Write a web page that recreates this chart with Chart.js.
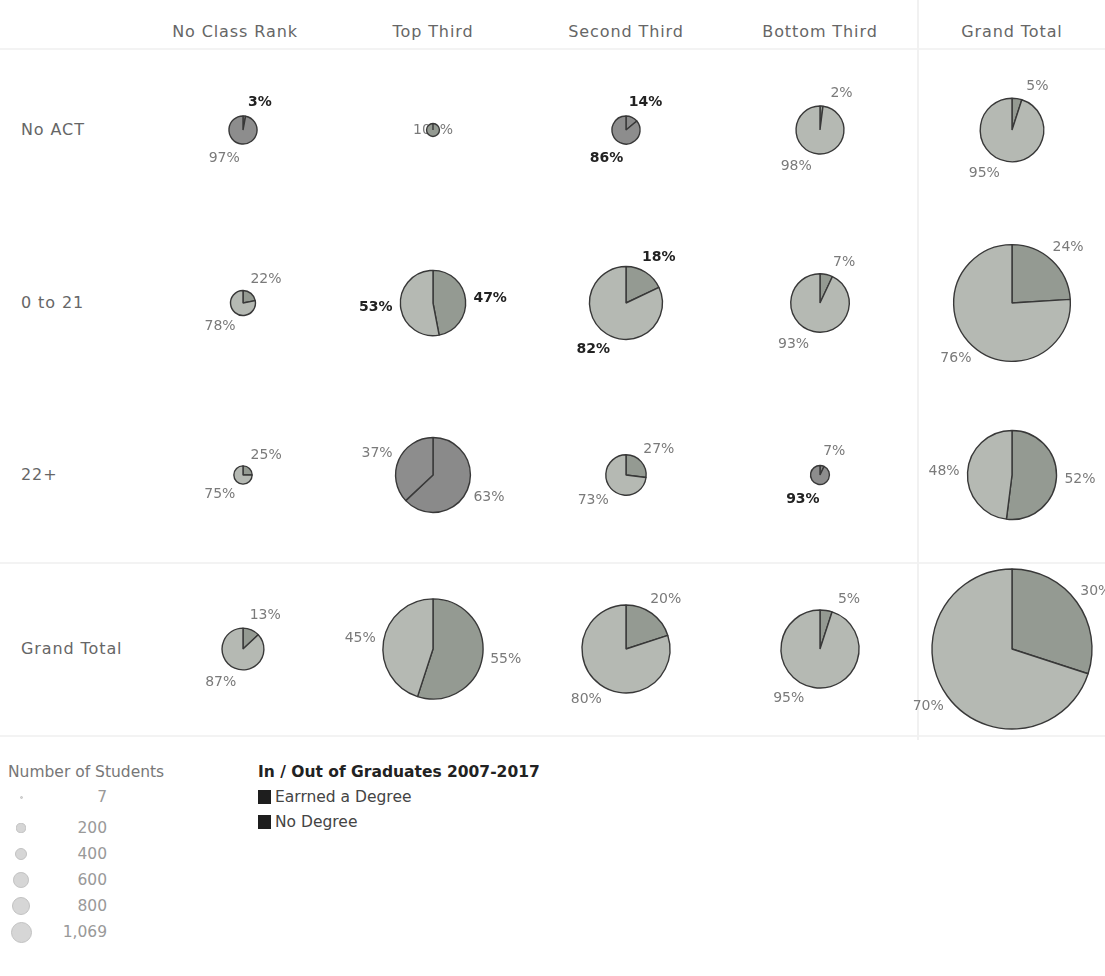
<!DOCTYPE html>
<html>
<head>
<meta charset="utf-8">
<script src="https://cdn.jsdelivr.net/npm/chart.js@4"></script>
<style>
  body { margin: 0; background: #fff; font-family: "DejaVu Sans", sans-serif; }
  #wrap { position: relative; width: 1105px; height: 976px; overflow: hidden; }
  #wrap canvas { position: absolute; }
  .txt { position: absolute; white-space: nowrap; color: #666; font-size: 15.5px; line-height: 18px; }
  .hdr { font-size: 16px; letter-spacing: 0.9px; }
  .hline { position: absolute; height: 2px; background: #f3f3f3; }
  .vline { position: absolute; width: 2px; background: #f1f1f1; }
  .dot { position: absolute; border-radius: 50%; background: #d6d6d6; border: 1px solid #c2c2c2; box-sizing: border-box; }
  .sq { position: absolute; width: 13px; height: 14px; background: #1e1e1e; }
</style>
</head>
<body>
<div id="wrap"></div>
<script>
// columns / rows of the crosstab
const classRanks = ['No Class Rank', 'Top Third', 'Second Third', 'Bottom Third', 'Grand Total'];
const actGroups = ['No ACT', '0 to 21', '22+', 'Grand Total'];
const outcomes = ['Earrned a Degree', 'No Degree'];

// number of students (size of each pie)
const studentsNoAct = [33, 7, 33, 96, 169];
const students0to21 = [26, 178, 222, 143, 569];
const students22plus = [14, 234, 68, 15, 331];
const studentsTotal = [73, 419, 323, 254, 1069];

// % earned a degree / % no degree
const earnedNoAct = [3, 100, 14, 2, 5];
const noDegreeNoAct = [97, 0, 86, 98, 95];
const earned0to21 = [22, 47, 18, 7, 24];
const noDegree0to21 = [78, 53, 82, 93, 76];
const earned22plus = [25, 63, 27, 7, 52];
const noDegree22plus = [75, 37, 73, 93, 48];
const earnedTotal = [13, 55, 20, 5, 30];
const noDegreeTotal = [87, 45, 80, 95, 70];

// size legend
const sizeLegendValues = [7, 200, 400, 600, 800, 1069];

const students = [studentsNoAct, students0to21, students22plus, studentsTotal];
const earned = [earnedNoAct, earned0to21, earned22plus, earnedTotal];
const noDegree = [noDegreeNoAct, noDegree0to21, noDegree22plus, noDegreeTotal];

// layout
const colX = [243, 433, 626, 820, 1012];
const rowY = [130, 303, 475, 649];
const maxR = 80;
const maxN = 1069;
const cellW = 250, cellH = 210;

// styling of individual cells (scan shows some pies darker / bold labels)
const darkCells = ['0-0', '0-2', '2-1', '2-3'];
const boldLabels = ['0-0-0', '0-2-0', '0-2-1', '1-1-0', '1-1-1', '1-2-0', '1-2-1', '2-3-1'];

const wrap = document.getElementById('wrap');

function addText(text, x, y, align, css, cls) {
  const d = document.createElement('div');
  d.className = 'txt' + (cls ? ' ' + cls : '');
  d.textContent = text;
  d.style.top = (y - 9) + 'px';
  if (align === 'center') { d.style.left = (x - 100) + 'px'; d.style.width = '200px'; d.style.textAlign = 'center'; }
  else if (align === 'right') { d.style.left = (x - 200) + 'px'; d.style.width = '200px'; d.style.textAlign = 'right'; }
  else d.style.left = x + 'px';
  if (css) Object.assign(d.style, css);
  wrap.appendChild(d);
}

// faint table lines
function line(cls, x, y, len) {
  const d = document.createElement('div');
  d.className = cls;
  d.style.left = x + 'px'; d.style.top = y + 'px';
  if (cls === 'hline') d.style.width = len + 'px'; else d.style.height = len + 'px';
  wrap.appendChild(d);
}
line('hline', 0, 48, 1105);
line('hline', 0, 562, 1105);
line('hline', 0, 735, 1105);
line('vline', 917, 0, 740);

classRanks.forEach((c, i) => addText(c, colX[i] - (i === 0 ? 8 : 0), 32, 'center', null, 'hdr'));
actGroups.forEach((r, j) => addText(r, 21, rowY[j], 'left', null, 'hdr'));

// percentage labels drawn around each slice
const pctLabels = {
  id: 'pctLabels',
  beforeDatasetsDraw(chart) {
    const ctx = chart.ctx;
    const meta = chart.getDatasetMeta(0);
    const vals = chart.data.datasets[0].data;
    const key = chart.options.cellKey;
    ctx.save();
    meta.data.forEach((arc, k) => {
      const v = vals[k];
      if (!v) return;
      const bold = boldLabels.includes(key + '-' + k);
      ctx.font = (bold ? 'bold ' : '') + '14px "DejaVu Sans", sans-serif';
      ctx.fillStyle = bold ? '#222' : '#7a7a7a';
      ctx.textAlign = 'center';
      ctx.textBaseline = 'middle';
      const txt = v + '%';
      const p = arc.getProps(['x', 'y', 'startAngle', 'endAngle', 'outerRadius'], true);
      if (v === 100) { ctx.fillText(txt, p.x, p.y); return; }
      const mid = (p.startAngle + p.endAngle) / 2;
      let dx = Math.cos(mid), dy = Math.sin(mid);
      // keep labels off the vertical axis, first slice to the right, second to the left
      if (Math.abs(dx) < 0.5) {
        const s = Math.abs(dx) > 0.05 ? Math.sign(dx) : (k === 0 ? 1 : -1);
        dx = 0.5 * s;
        dy = 0.87 * Math.sign(dy);
      }
      const w = ctx.measureText(txt).width;
      const gap = 6;
      const ax = p.x + (p.outerRadius + gap) * dx;
      const ay = p.y + (p.outerRadius + gap) * dy;
      ctx.fillText(txt, ax + dx * (w / 2 + 2), ay + dy * 12);
    });
    ctx.restore();
  }
};

actGroups.forEach((r, j) => {
  classRanks.forEach((c, i) => {
    const n = students[j][i];
    const key = j + '-' + i;
    const dark = darkCells.includes(key);
    const cv = document.createElement('canvas');
    cv.width = cellW; cv.height = cellH;
    cv.style.left = (colX[i] - cellW / 2) + 'px';
    cv.style.top = (rowY[j] - cellH / 2) + 'px';
    wrap.appendChild(cv);
    new Chart(cv, {
      type: 'pie',
      data: {
        labels: outcomes,
        datasets: [{
          data: [earned[j][i], noDegree[j][i]],
          backgroundColor: dark ? ['#8a8a8a', '#8d8d8d'] : ['#949a92', '#b5b9b3'],
          borderColor: '#383838',
          borderWidth: 1.4
        }]
      },
      options: {
        cellKey: key,
        responsive: false,
        animation: false,
        events: [],
        radius: maxR * Math.sqrt(n / maxN),
        layout: { padding: 0 },
        plugins: { legend: { display: false }, tooltip: { enabled: false } }
      },
      plugins: [pctLabels]
    });
  });
});

// size legend
addText('Number of Students', 8, 772, 'left', { color: '#777' });
const legY = [797, 828, 854, 880, 906, 932];
sizeLegendValues.forEach((v, i) => {
  const r = Math.max(10.5 * Math.sqrt(v / maxN), 1.5);
  const d = document.createElement('div');
  d.className = 'dot';
  d.style.width = d.style.height = (2 * r) + 'px';
  d.style.left = (21 - r) + 'px';
  d.style.top = (legY[i] - r) + 'px';
  wrap.appendChild(d);
  addText(v.toLocaleString('en-US'), 107, legY[i], 'right', { color: '#999' });
});

// colour legend
addText('In / Out of Graduates 2007-2017', 258, 772, 'left', { color: '#222', fontWeight: 'bold' });
outcomes.forEach((o, i) => {
  const y = 797 + i * 25;
  const s = document.createElement('div');
  s.className = 'sq';
  s.style.left = '258px';
  s.style.top = (y - 7) + 'px';
  wrap.appendChild(s);
  addText(o, 275, y, 'left', { color: '#444' });
});
</script>
</body>
</html>
